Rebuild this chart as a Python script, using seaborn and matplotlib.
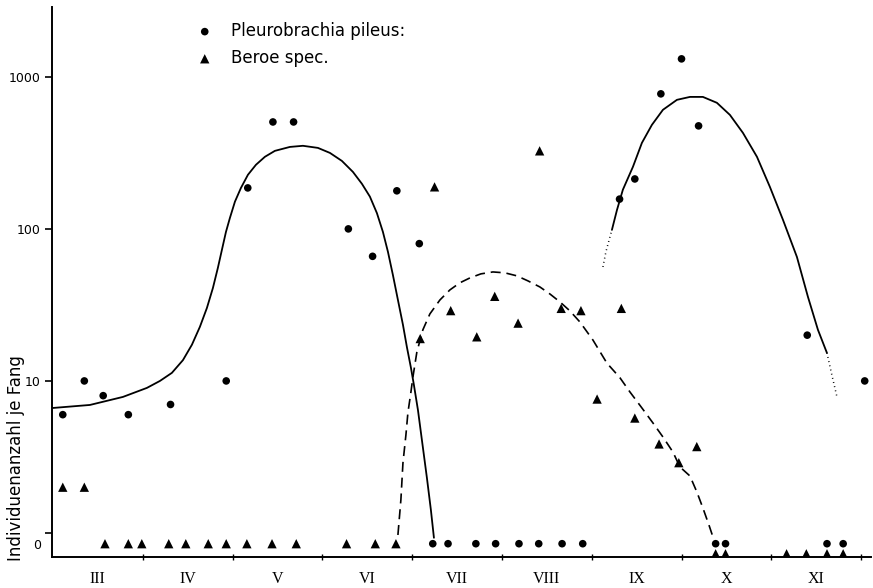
import numpy as np
import pandas as pd
import matplotlib
matplotlib.use("Agg")
import matplotlib.pyplot as plt
import seaborn as sns

# x position in months: 0 = start of March (III), 1 = start of April, ...
month_labels = ["III", "IV", "V", "VI", "VII", "VIII", "IX", "X", "XI"]

# Pleurobrachia pileus (circles); 0 = none caught
pleuro_month = [0.11, 0.35, 0.56, 0.84, 1.31, 1.93, 2.17, 2.45, 2.68, 3.29, 3.56, 3.83,
                4.08, 4.23, 4.40, 4.71, 4.93, 5.19, 5.41, 5.67, 5.90, 6.31, 6.48, 6.77,
                7.00, 7.19, 7.38, 7.49, 8.40, 8.62, 8.80, 9.04]
pleuro_count = [6, 10, 8, 6, 7, 10, 186, 505, 505, 100, 66, 178,
                80, 0, 0, 0, 0, 0, 0, 0, 0, 157, 213, 773,
                1313, 476, 0, 0, 20, 0, 0, 10]

# Beroe spec. (triangles)
beroe_month = [0.11, 0.35, 0.58, 0.84, 0.99, 1.29, 1.48, 1.73, 1.93, 2.16, 2.44, 2.71,
               3.27, 3.59, 3.82, 4.09, 4.25, 4.43, 4.72, 4.92, 5.18, 5.42, 5.66, 5.88,
               6.06, 6.33, 6.48, 6.75, 6.97, 7.17, 7.38, 7.49, 8.17, 8.39, 8.62, 8.80]
beroe_count = [2, 2, 0, 0, 0, 0, 0, 0, 0, 0, 0, 0,
               0, 0, 0, 19, 189, 29, 19.5, 36, 24, 326, 30, 29,
               7.6, 30, 5.7, 3.85, 2.9, 3.7, 0, 0, 0, 0, 0, 0]

# hand-drawn curves
curve1_month = [0.000, 0.412, 0.780, 1.047, 1.192, 1.325, 1.448, 1.548, 1.637, 1.715,
                1.782, 1.837, 1.882, 1.927, 1.971, 2.027, 2.094, 2.172, 2.261, 2.361,
                2.472, 2.639, 2.784, 2.951, 3.085, 3.218, 3.341, 3.441, 3.530, 3.608,
                3.675, 3.731, 3.786, 3.842, 3.898, 3.942, 3.987, 4.020, 4.065, 4.109,
                4.165, 4.209, 4.243]
curve1_count = [6.64, 6.95, 7.85, 9.0, 10.0, 11.3, 13.7, 17.3, 22.7, 30.2,
                40.9, 55.4, 72.8, 95.5, 118, 151, 186, 227, 264, 298,
                326, 346, 352, 341, 316, 280, 237, 198, 163, 127,
                95.5, 70.6, 49.8, 34.1, 23.4, 16.7, 12.2, 9.41, 6.44, 4.09,
                2.30, 1.42, 0.93]

curve2_month = [3.842, 3.875, 3.898, 3.931, 3.953, 3.987, 4.009, 4.053, 4.120, 4.198,
                4.310, 4.421, 4.532, 4.644, 4.766, 4.900, 5.033, 5.167, 5.290, 5.423,
                5.535, 5.646, 5.757, 5.869, 6.013, 6.169, 6.314, 6.425, 6.559, 6.682,
                6.793, 6.904, 6.982, 7.094, 7.171, 7.238, 7.305, 7.361]
curve2_count = [0.97, 1.65, 2.89, 4.41, 6.16, 8.47, 10.6, 15.5, 21.7, 27.6,
                34.1, 39.7, 44.2, 47.6, 50.6, 52.1, 51.4, 49.1, 45.5, 41.5,
                37.3, 33.1, 28.9, 24.4, 18.6, 13.1, 10.5, 8.47, 6.64, 5.29,
                4.28, 3.41, 2.72, 2.37, 1.86, 1.46, 1.13, 0.90]

curve3_month = [6.125, 6.158, 6.203, 6.225, 6.281, 6.347, 6.459, 6.559, 6.670, 6.793,
                6.949, 7.094, 7.238, 7.394, 7.539, 7.684, 7.840, 7.984, 8.129, 8.285,
                8.408, 8.519, 8.619, 8.675, 8.731]
curve3_count = [56.2, 70.6, 88.6, 98.5, 133, 181, 256, 368, 483, 607,
                706, 738, 738, 675, 562, 428, 298, 189, 115, 65.4,
                35.7, 21.7, 15.3, 10.9, 7.85]

ZERO_ROW = 0.85       # where zero catches are drawn on the log axis
ZERO_ROW_LATE = 0.73  # zero triangles from October on sit below the circles

sns.set_style("ticks")
plt.rcParams["font.family"] = ["DejaVu Sans"]
plt.rcParams["text.color"] = "black"
plt.rcParams["axes.labelcolor"] = "black"
plt.rcParams["xtick.color"] = "black"
plt.rcParams["ytick.color"] = "black"

fig = plt.figure(figsize=(8.73, 5.88), dpi=100)
ax = fig.add_axes([52 / 873, 31 / 588, 819 / 873, 550 / 588])
ax.set_yscale("log")

pm = np.array(pleuro_month)
pc = np.array(pleuro_count, dtype=float)
bm = np.array(beroe_month)
bc = np.array(beroe_count, dtype=float)

pleuro_df = pd.DataFrame({"month": pm, "n": np.where(pc > 0, pc, ZERO_ROW)})
beroe_df = pd.DataFrame({"month": bm,
                         "n": np.where(bc > 0, bc, np.where(bm >= 7, ZERO_ROW_LATE, ZERO_ROW))})

DOT = (0.6, 2.2)

# curves
sns.lineplot(x=curve1_month, y=curve1_count, ax=ax, color="black", lw=1.3,
             sort=False, estimator=None)
sns.lineplot(x=curve2_month, y=curve2_count, ax=ax, color="black", lw=1.2,
             sort=False, estimator=None)
ax.lines[-1].set_dashes((6, 3.5))
c3m = np.array(curve3_month)
c3c = np.array(curve3_count)
sns.lineplot(x=c3m[:4], y=c3c[:4], ax=ax, color="black", lw=1.1, sort=False, estimator=None)
ax.lines[-1].set_dashes(DOT)
sns.lineplot(x=c3m[3:-2], y=c3c[3:-2], ax=ax, color="black", lw=1.3, sort=False, estimator=None)
sns.lineplot(x=c3m[-3:], y=c3c[-3:], ax=ax, color="black", lw=1.1, sort=False, estimator=None)
ax.lines[-1].set_dashes(DOT)

# points
sns.scatterplot(data=beroe_df, x="month", y="n", ax=ax, marker="^", s=45,
                color="black", edgecolor="none", label="Beroe spec.", zorder=3)
sns.scatterplot(data=pleuro_df, x="month", y="n", ax=ax, marker="o", s=30,
                color="black", edgecolor="none", label="Pleurobrachia pileus:", zorder=4)

ax.set_xlim(-0.01, 9.11)
ax.set_ylim(0.695, 2880)

for side in ["top", "right"]:
    ax.spines[side].set_visible(False)
for side in ["left", "bottom"]:
    ax.spines[side].set_linewidth(1.4)
    ax.spines[side].set_color("black")

# y ticks
ax.set_yticks([1, 10, 100, 1000], labels=["", "10", "100", "1000"])
ax.set_yticks([ZERO_ROW], labels=["0"], minor=True)
ax.tick_params(axis="y", which="major", length=5, width=1.2, labelsize=9, pad=3, colors="black")
ax.tick_params(axis="y", which="minor", length=0, labelsize=9, pad=8, colors="black")

# x ticks: boundaries as marks, month names in between
ax.set_xticks(np.arange(1, 10), labels=[""] * 9)
ax.set_xticks(np.arange(9) + 0.5, labels=month_labels, minor=True)
ax.tick_params(axis="x", which="major", length=4, width=1.0, direction="inout", colors="black")
ax.tick_params(axis="x", which="minor", length=0, pad=10, labelsize=11.5, colors="black")
for t in ax.get_xticklabels(minor=True):
    t.set_family(["Liberation Serif", "DejaVu Serif"])

ax.set_xlabel("")
ax.set_ylabel("Individuenanzahl je Fang", fontsize=12, color="black")
ax.yaxis.set_label_coords(-0.033, 0.18)

handles, labels = ax.get_legend_handles_labels()
order = [labels.index("Pleurobrachia pileus:"), labels.index("Beroe spec.")]
leg = ax.legend([handles[i] for i in order], [labels[i] for i in order],
                loc="upper left", bbox_to_anchor=(0.158, 1.0), frameon=False,
                fontsize=12, handletextpad=1.1, labelspacing=0.55, handlelength=1.0,
                labelcolor="black")

fig.savefig("out.png", dpi=100)
